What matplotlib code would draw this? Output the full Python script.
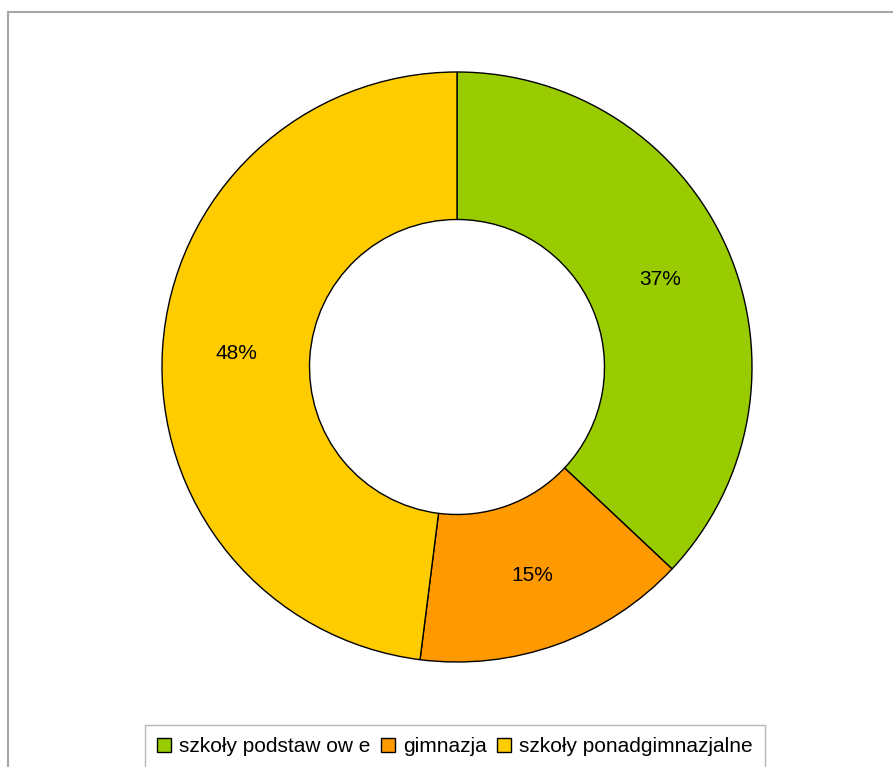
import matplotlib
matplotlib.use("Agg")
import matplotlib.pyplot as plt
from matplotlib.patches import Rectangle

categories = ["szkoły podstaw ow e", "gimnazja", "szkoły ponadgimnazjalne"]
values = [37, 15, 48]
colors = ["#99CC00", "#FF9900", "#FFCC00"]

plt.rcParams['font.family'] = ['Liberation Sans', 'DejaVu Sans']

W, H = 893, 767
fig = plt.figure(figsize=(W / 100, H / 100), dpi=100)

# outer frame (cut by the right and bottom edges)
fig.patches.append(Rectangle((8 / W, -0.05), 1.2, 1 - 12 / H + 0.05,
                             transform=fig.transFigure, fill=False,
                             edgecolor="#a6a6a6", linewidth=1.5))

cx, cy, r = 457, 367, 295
ax = fig.add_axes([(cx - r) / W, (H - cy - r) / H, 2 * r / W, 2 * r / H])
wedges, texts, autotexts = ax.pie(
    values, colors=colors, startangle=90, counterclock=False, radius=1.0,
    autopct=lambda p: f"{p:.0f}%", pctdistance=0.75,
    wedgeprops=dict(width=0.5, edgecolor="black", linewidth=1.0),
    textprops=dict(fontsize=15, color="black"))
ax.set_xlim(-1, 1)
ax.set_ylim(-1, 1)
ax.set_aspect("equal")
ax.axis("off")

leg = fig.legend(wedges, categories, loc="upper center",
                 bbox_to_anchor=(455 / W, 1 - 725 / H), ncol=3,
                 fontsize=15, frameon=True, fancybox=False,
                 edgecolor="#a6a6a6", handlelength=0.65, handleheight=0.65,
                 handletextpad=0.4, columnspacing=0.5, borderpad=0.6,
                 borderaxespad=0)
leg.get_frame().set_linewidth(1.0)

fig.savefig("out.png", dpi=100)
